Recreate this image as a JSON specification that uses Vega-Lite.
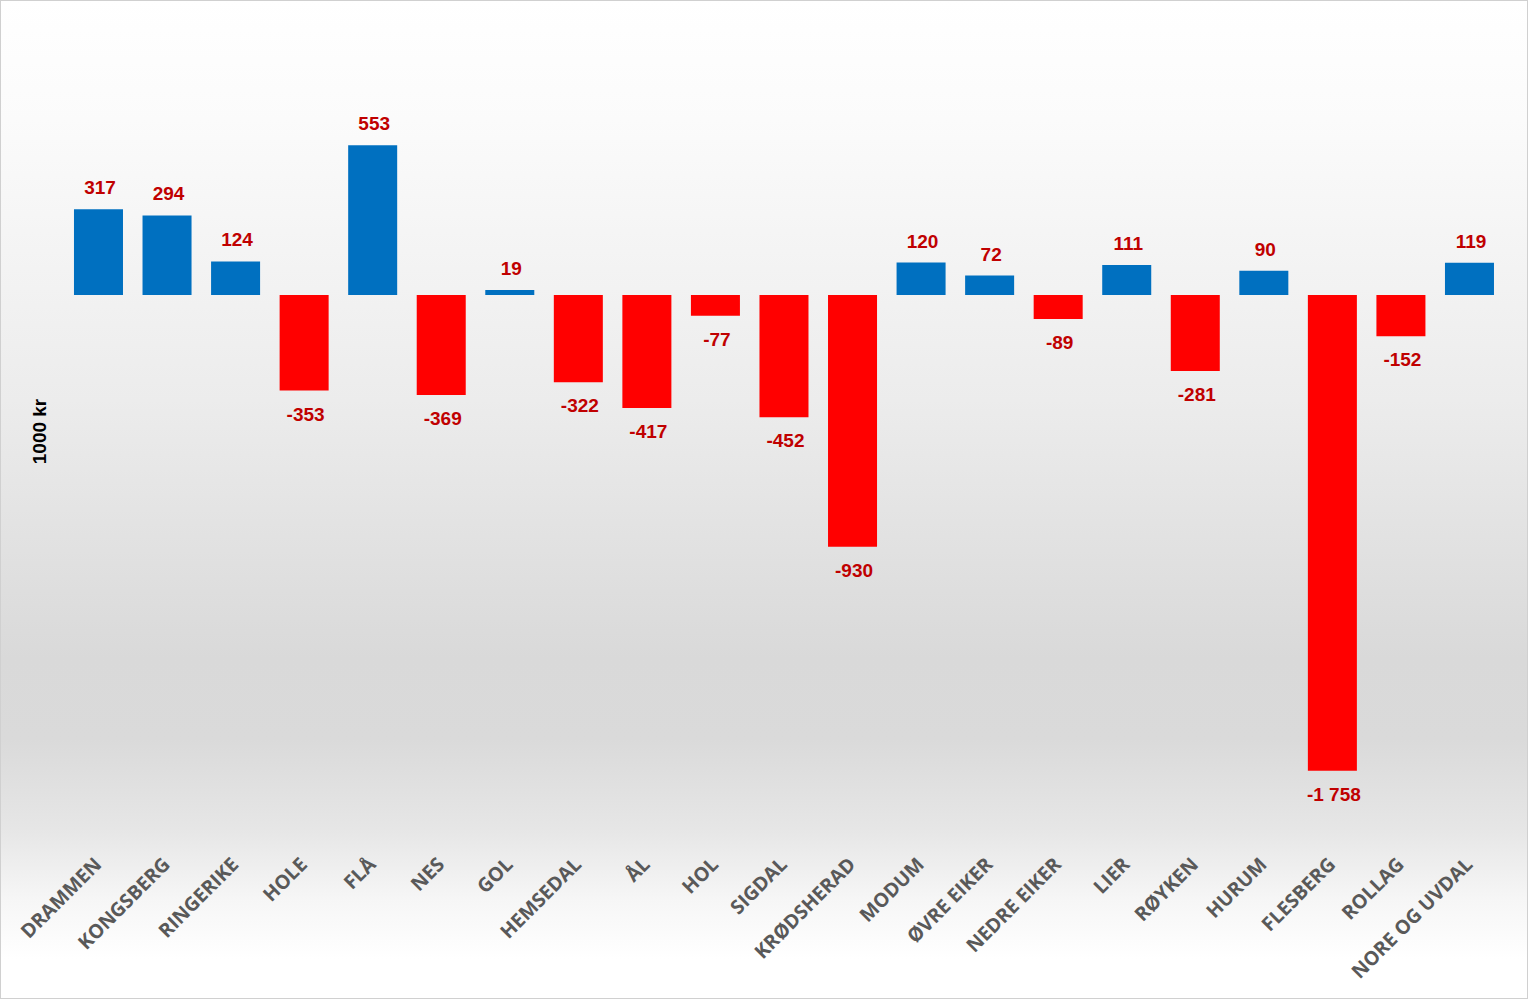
{
  "$schema": "https://vega.github.io/schema/vega-lite/v6.json",
  "width": 1528,
  "height": 999,
  "autosize": "none",
  "padding": 0,
  "background": "#ffffff",
  "config": {
    "locale": {"number": {"decimal": ",", "thousands": " ", "grouping": [3], "currency": ["", " kr"], "minus": "-"}},
    "view": {
      "fill": {
        "gradient": "linear", "x1": 0, "y1": 0, "x2": 0, "y2": 1,
        "stops": [
          {"offset": 0, "color": "#ffffff"},
          {"offset": 0.12, "color": "#fbfbfb"},
          {"offset": 0.4, "color": "#ececec"},
          {"offset": 0.66, "color": "#d9d9d9"},
          {"offset": 0.74, "color": "#dadada"},
          {"offset": 0.83, "color": "#e6e6e6"},
          {"offset": 0.9, "color": "#f6f6f6"},
          {"offset": 0.96, "color": "#ffffff"},
          {"offset": 1, "color": "#ffffff"}
        ]
      },
      "stroke": "#d0d0d0",
      "strokeWidth": 2
    }
  },
  "data": {
    "values": [
      {"kommune": "DRAMMEN", "value": 317},
      {"kommune": "KONGSBERG", "value": 294},
      {"kommune": "RINGERIKE", "value": 124},
      {"kommune": "HOLE", "value": -353},
      {"kommune": "FLÅ", "value": 553},
      {"kommune": "NES", "value": -369},
      {"kommune": "GOL", "value": 19},
      {"kommune": "HEMSEDAL", "value": -322},
      {"kommune": "ÅL", "value": -417},
      {"kommune": "HOL", "value": -77},
      {"kommune": "SIGDAL", "value": -452},
      {"kommune": "KRØDSHERAD", "value": -930},
      {"kommune": "MODUM", "value": 120},
      {"kommune": "ØVRE EIKER", "value": 72},
      {"kommune": "NEDRE EIKER", "value": -89},
      {"kommune": "LIER", "value": 111},
      {"kommune": "RØYKEN", "value": -281},
      {"kommune": "HURUM", "value": 90},
      {"kommune": "FLESBERG", "value": -1758},
      {"kommune": "ROLLAG", "value": -152},
      {"kommune": "NORE OG UVDAL", "value": 119}
    ]
  },
  "encoding": {
    "x": {
      "field": "kommune", "type": "nominal", "sort": null,
      "scale": {"paddingInner": 0.285, "paddingOuter": 0.7877, "align": 0.685},
      "axis": {
        "title": null, "orient": "bottom", "offset": -140,
        "labelAngle": -45, "labelAlign": "right", "labelBaseline": "middle",
        "labelFont": "Open Sans", "labelFontWeight": "bold", "labelFontSize": 19.5,
        "labelColor": "#595959", "labelPadding": 2,
        "ticks": false, "domain": false, "grid": false
      }
    },
    "y": {
      "field": "value", "type": "quantitative",
      "scale": {"domain": [-2601, 1090], "nice": false, "zero": true},
      "axis": {
        "title": "1000 kr", "labels": false, "ticks": false, "domain": false, "grid": false,
        "titleFont": "Liberation Sans", "titleFontWeight": "bold", "titleFontSize": 19,
        "titleColor": "#000000", "titleX": 49, "titleY": 431
      }
    }
  },
  "layer": [
    {
      "mark": {"type": "bar"},
      "encoding": {
        "color": {"condition": {"test": "datum.value < 0", "value": "#ff0000"}, "value": "#0070c0"}
      }
    },
    {
      "transform": [{"filter": "datum.value >= 0"}],
      "mark": {"type": "text", "dy": -21, "dx": 1.5, "baseline": "middle", "align": "center", "font": "Liberation Sans", "fontWeight": "bold", "fontSize": 19, "color": "#c00000"},
      "encoding": {"text": {"field": "value", "type": "quantitative", "format": ",d"}}
    },
    {
      "transform": [{"filter": "datum.value < 0"}],
      "mark": {"type": "text", "dy": 24, "dx": 1.5, "baseline": "middle", "align": "center", "font": "Liberation Sans", "fontWeight": "bold", "fontSize": 19, "color": "#c00000"},
      "encoding": {"text": {"field": "value", "type": "quantitative", "format": ",d"}}
    }
  ]
}
